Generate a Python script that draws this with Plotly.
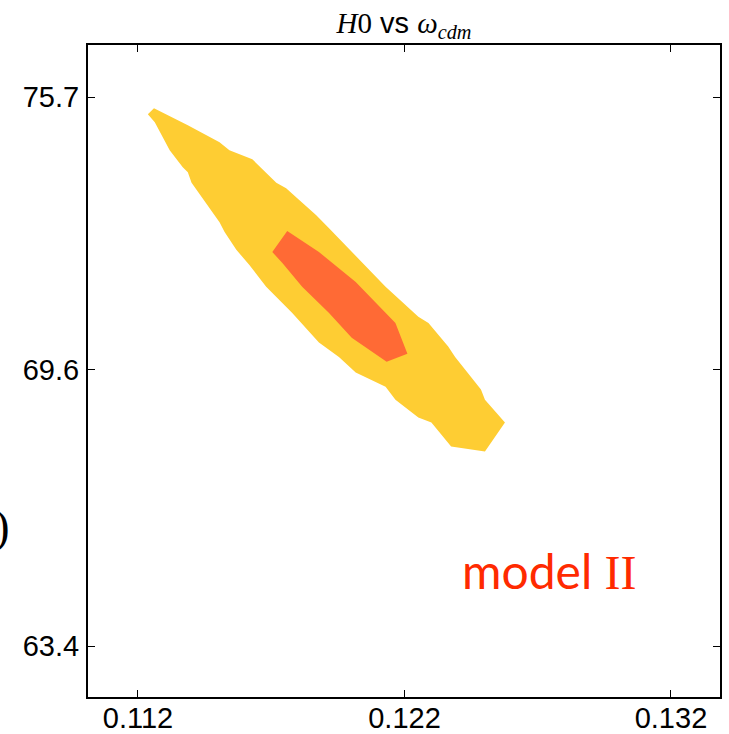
import plotly.graph_objects as go

# ---- data (contour polygons of the 2D posterior, in data coordinates) ----
outer_x = [0.11237, 0.11260, 0.11387, 0.11506, 0.11543, 0.11629, 0.11719, 0.11756,
           0.11804, 0.11868, 0.11916, 0.12129, 0.12252, 0.12290, 0.12364, 0.12390,
           0.12487, 0.12502, 0.12577, 0.12502, 0.12375, 0.12301, 0.12252, 0.12166,
           0.12129, 0.12017, 0.11954, 0.11879, 0.11778, 0.11681, 0.11618, 0.11569,
           0.11525, 0.11506, 0.11401, 0.11387, 0.11368, 0.11319, 0.11263]
outer_y = [75.32, 75.45, 75.07, 74.69, 74.51, 74.31, 73.78, 73.66,
           73.40, 73.06, 72.77, 71.45, 70.78, 70.64, 70.11, 69.88,
           69.15, 68.92, 68.41, 67.76, 67.87, 68.41, 68.52, 68.92,
           69.21, 69.53, 69.88, 70.20, 70.87, 71.45, 71.94, 72.28,
           72.68, 72.90, 73.78, 74.02, 74.13, 74.51, 75.14]

inner_x = [0.11760, 0.11879, 0.12017, 0.12129, 0.12166, 0.12211,
           0.12133, 0.12002, 0.11916, 0.11816, 0.11741, 0.11704]
inner_y = [72.70, 72.23, 71.56, 70.87, 70.64, 69.95,
           69.77, 70.31, 70.87, 71.45, 71.99, 72.23]

x_tickvals = [0.112, 0.122, 0.132]
x_ticktext = ["0.112", "0.122", "0.132"]
y_tickvals = [63.4, 69.6, 75.7]
y_ticktext = ["63.4", "69.6", "75.7"]

x_range = [0.110124, 0.13384]
y_range = [62.257, 76.87]

COL_OUTER = "#FECD33"
COL_INNER = "#FF6A35"

fig = go.Figure()
fig.add_trace(go.Scatter(x=outer_x, y=outer_y, mode="lines", fill="toself",
                         fillcolor=COL_OUTER, line=dict(width=0, color=COL_OUTER),
                         hoverinfo="skip", showlegend=False))
fig.add_trace(go.Scatter(x=inner_x, y=inner_y, mode="lines", fill="toself",
                         fillcolor=COL_INNER, line=dict(width=0, color=COL_INNER),
                         hoverinfo="skip", showlegend=False))

axis_common = dict(showgrid=False, zeroline=False, showline=True, linecolor="black",
                   linewidth=2, mirror="allticks", ticks="inside", ticklen=7,
                   tickwidth=1, tickcolor="black", automargin=False,
                   tickfont=dict(family="Liberation Sans, Arial", size=29, color="black"))

fig.update_xaxes(range=x_range, tickvals=x_tickvals, ticktext=x_ticktext,
                 ticklabelstandoff=-6, **axis_common)
fig.update_yaxes(range=y_range, tickvals=y_tickvals, ticktext=y_ticktext,
                 ticklabelstandoff=1, **axis_common)

fig.update_layout(
    width=729, height=734,
    margin=dict(l=88, r=9, t=45, b=37),
    paper_bgcolor="white", plot_bgcolor="white",
    title=dict(
        text="<span style='font-family:Liberation Serif'><i>H</i>0</span> vs "
             "<span style='font-family:Liberation Serif'><i>ω</i><sub><i>cdm</i></sub></span>",
        x=0.5, xref="paper", xanchor="center", y=0.9685, yanchor="middle",
        font=dict(family="Liberation Sans, Arial", size=29, color="black")),
    annotations=[
        dict(text="model <span style='font-family:Liberation Serif'>II</span>",
             x=0.1241, y=65.1, xref="x", yref="y", xanchor="left", yanchor="middle",
             showarrow=False,
             font=dict(family="Lato, Open Sans", size=48, color="#FF2A00")),
        dict(text="H0)", x=-0.1203, y=0.262, xref="paper", yref="paper",
             xanchor="right", yanchor="middle", showarrow=False,
             font=dict(family="Liberation Serif", size=46, color="black")),
    ],
)

# remove the default 8px page margin so the figure fills the window exactly
fig.write_html("out.html", config={"displayModeBar": False},
               post_script="document.body.style.margin='0';")
